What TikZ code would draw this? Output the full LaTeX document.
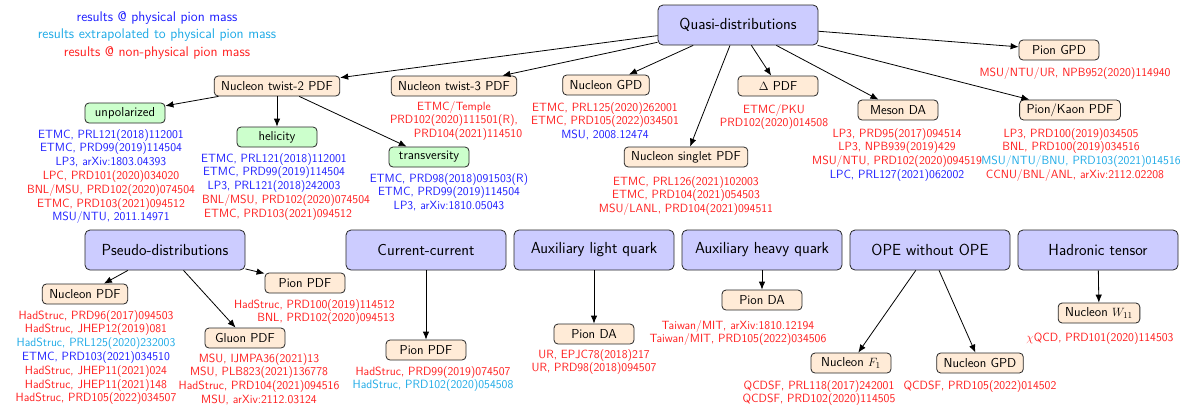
\documentclass[tikz,border=0pt]{standalone}
\usetikzlibrary{arrows.meta}
\definecolor{physblue}{RGB}{30,30,255}
\definecolor{extrcyan}{RGB}{30,170,230}
\definecolor{nonpred}{RGB}{255,30,30}
\definecolor{topfill}{RGB}{204,204,255}
\definecolor{subfill}{RGB}{255,235,215}
\definecolor{polfill}{RGB}{204,255,204}
\newcommand\phys[1]{\textcolor{physblue}{#1}}
\newcommand\extr[1]{\textcolor{extrcyan}{#1}}
\newcommand\nonp[1]{\textcolor{nonpred}{#1}}
\begin{document}
\begin{tikzpicture}[x=1pt,y=-1pt,
  topbox/.style={draw=black!85, fill=topfill, rounded corners=5pt, minimum width=160pt, minimum height=40pt, inner sep=3pt, line width=0.8pt, font=\fontsize{16}{19}\selectfont\sffamily},
  subbox/.style={draw=black!85, fill=subfill, rounded corners=4pt, minimum width=80pt, minimum height=20pt, inner xsep=7pt, inner ysep=2pt, line width=0.8pt, font=\fontsize{13}{15}\selectfont\sffamily},
  polbox/.style={subbox, fill=polfill},
  refs/.style={align=center, inner sep=0pt, anchor=north, font=\fontsize{11.9}{13.8}\selectfont\sffamily},
  legend/.style={align=center, inner sep=0pt, anchor=north, font=\fontsize{14}{17.5}\selectfont\sffamily},
  arr/.style={-{Latex[length=8pt,width=6.5pt]}, line width=0.8pt}]
\useasboundingbox (0,0) rectangle (1199,408);

% legend
\node[legend] (leg) at (157,11) {\phys{results @ physical pion mass}\\ \extr{results extrapolated to physical pion mass}\\ \nonp{results @ non-physical pion mass}};

% top-level boxes
\node[topbox] (quasi) at (738,25) {Quasi-distributions};
\node[topbox] (pseudo) at (165,250) {Pseudo-distributions};
\node[topbox] (cc) at (426,250) {Current-current};
\node[topbox] (alq) at (594,250) {Auxiliary light quark};
\node[topbox] (ahq) at (762,250) {Auxiliary heavy quark};
\node[topbox] (ope) at (930,250) {OPE without OPE};
\node[topbox] (ht) at (1098,250) {Hadronic tensor};

% quasi sub-nodes
\node[subbox] (tw2) at (277,86) {Nucleon twist-2 PDF};
\node[polbox] (unpol) at (125,113) {unpolarized};
\node[polbox] (hel) at (277,137) {helicity};
\node[polbox] (trans) at (429,157) {transversity};
\node[subbox] (tw3) at (454,86) {Nucleon twist-3 PDF};
\node[subbox] (ngpd) at (606,85) {Nucleon GPD};
\node[subbox] (delta) at (778,86) {$\Delta$ PDF};
\node[subbox] (singlet) at (686,157) {Nucleon singlet PDF};
\node[subbox] (meson) at (898,110) {Meson DA};
\node[subbox] (pk) at (1070,110) {Pion/Kaon PDF};
\node[subbox] (pgpd) at (1059,50) {Pion GPD};

% bottom sub-nodes
\node[subbox] (npdf) at (85,294) {Nucleon PDF};
\node[subbox] (ppdfa) at (305,283) {Pion PDF};
\node[subbox] (gpdf) at (245,338) {Gluon PDF};
\node[subbox] (ppdfb) at (426,350) {Pion PDF};
\node[subbox] (pdaa) at (594,334) {Pion DA};
\node[subbox] (pdab) at (762,300) {Pion DA};
\node[subbox] (nfone) at (851,363) {Nucleon $F_1$};
\node[subbox] (ngpdb) at (980,363) {Nucleon GPD};
\node[subbox] (nw) at (1099,313) {Nucleon $W_{11}$};

% connectors
\foreach \t in {tw2,tw3,ngpd,singlet,delta,meson,pk,pgpd}
  \draw[arr] (quasi) -- (\t);
\foreach \t in {unpol,hel,trans}
  \draw[arr] (tw2) -- (\t);
\foreach \t in {npdf,ppdfa,gpdf}
  \draw[arr] (pseudo) -- (\t);
\draw[arr] (cc) -- (ppdfb);
\draw[arr] (alq) -- (pdaa);
\draw[arr] (ahq) -- (pdab);
\draw[arr] (ope) -- (nfone);
\draw[arr] (ope) -- (ngpdb);
\draw[arr] (ht) -- (nw);

% reference lists
\node[refs] (lunpol) at (111,129) {\phys{ETMC, PRL121(2018)112001}\\ \phys{ETMC, PRD99(2019)114504}\\ \phys{LP3, arXiv:1803.04393}\\ \nonp{LPC, PRD101(2020)034020}\\ \nonp{BNL/MSU, PRD102(2020)074504}\\ \nonp{ETMC, PRD103(2021)094512}\\ \phys{MSU/NTU, 2011.14971}};
\node[refs] (lhel) at (274,153) {\phys{ETMC, PRL121(2018)112001}\\ \phys{ETMC, PRD99(2019)114504}\\ \phys{LP3, PRL121(2018)242003}\\ \hspace*{24pt}\nonp{BNL/MSU, PRD102(2020)074504}\\ \hspace*{8pt}\nonp{ETMC, PRD103(2021)094512}};
\node[refs] (ltrans) at (449,173) {\phys{ETMC, PRD98(2018)091503(R)}\\ \phys{ETMC, PRD99(2019)114504}\\ \phys{LP3, arXiv:1810.05043}};
\node[refs] (ltw3) at (454,101) {\nonp{ETMC/Temple}\\ \nonp{PRD102(2020)111501(R),}\\ \hspace*{28pt}\nonp{PRD104(2021)114510}};
\node[refs] (lngpd) at (605,102) {\nonp{ETMC, PRL125(2020)262001}\\ \nonp{ETMC, PRD105(2022)034501}\\ \phys{MSU, 2008.12474}};
\node[refs] (ldelta) at (774,104) {\nonp{ETMC/PKU}\\ \nonp{PRD102(2020)014508}};
\node[refs] (lsinglet) at (686,176) {\nonp{ETMC, PRL126(2021)102003}\\ \nonp{ETMC, PRD104(2021)054503}\\ \nonp{MSU/LANL, PRD104(2021)094511}};
\node[refs] (lmeson) at (897,128) {\nonp{LP3, PRD95(2017)094514}\\ \nonp{LP3, NPB939(2019)429}\\ \nonp{MSU/NTU, PRD102(2020)094519}\hspace*{20pt}\\ \phys{LPC, PRL127(2021)062002}};
\node[refs] (lpgpd) at (1075,67) {\nonp{MSU/NTU/UR, NPB952(2020)114940}};
\node[refs] (lpk) at (1071,128) {\nonp{LP3, PRD100(2019)034505}\\ \nonp{BNL, PRD100(2019)034516}\\ \hspace*{20pt}\extr{MSU/NTU/BNU, PRD103(2021)014516}\\ \hspace*{8pt}\nonp{CCNU/BNL/ANL, arXiv:2112.02208}};

\node[refs] (lnpdf) at (96,310) {\nonp{HadStruc, PRD96(2017)094503}\\ \nonp{HadStruc, JHEP12(2019)081}\\ \extr{HadStruc, PRL125(2020)232003}\\ \phys{ETMC, PRD103(2021)034510}\\ \nonp{HadStruc, JHEP11(2021)024}\\ \nonp{HadStruc, JHEP11(2021)148}\\ \nonp{HadStruc, PRD105(2022)034507}};
\node[refs, align=right, anchor=north east] (lppdfa) at (395,299) {\nonp{HadStruc, PRD100(2019)114512}\\ \nonp{BNL, PRD102(2020)094513}};
\node[refs] (lgpdf) at (259,353) {\nonp{MSU, IJMPA36(2021)13}\\ \nonp{MSU, PLB823(2021)136778}\\ \nonp{HadStruc, PRD104(2021)094516}\\ \nonp{MSU, arXiv:2112.03124}};
\node[refs] (lppdfb) at (433,366) {\nonp{HadStruc, PRD99(2019)074507}\\ \extr{HadStruc, PRD102(2020)054508}};
\node[refs] (lpdaa) at (594,349) {\nonp{UR, EPJC78(2018)217}\\ \nonp{UR, PRD98(2018)094507}};
\node[refs] (lpdab) at (738,320) {\nonp{Taiwan/MIT, arXiv:1810.12194}\\ \nonp{Taiwan/MIT, PRD105(2022)034506}};
\node[refs] (lnfone) at (819,380) {\nonp{QCDSF, PRL118(2017)242001}\\ \nonp{QCDSF, PRD102(2020)114505}};
\node[refs] (lngpdb) at (980,380) {\nonp{QCDSF, PRD105(2022)014502}};
\node[refs] (lnw) at (1100,332) {\nonp{$\chi$QCD, PRD101(2020)114503}};
\end{tikzpicture}
\end{document}
